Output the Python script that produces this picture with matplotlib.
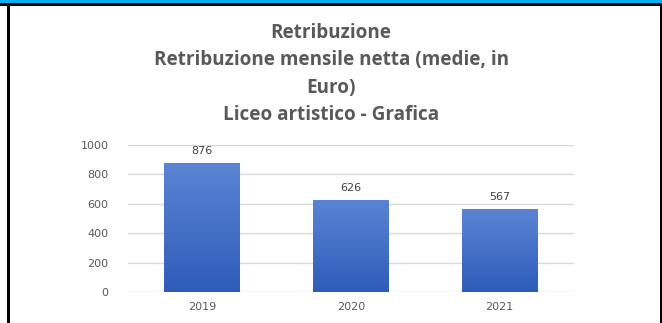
import numpy as np
import matplotlib.pyplot as plt
from matplotlib.patches import Rectangle
from matplotlib.colors import LinearSegmentedColormap

anni = ["2019", "2020", "2021"]
retribuzione = [876, 626, 567]
titolo = "Retribuzione\nRetribuzione mensile netta (medie, in\nEuro)\nLiceo artistico - Grafica"

grigio = "#595959"

fig = plt.figure(figsize=(6.62, 3.23), dpi=100)
ax = fig.add_axes([0.1934, 0.096, 0.6737, 0.455])

x = np.arange(len(anni))
bars = ax.bar(x, retribuzione, width=0.51, color="none", zorder=3)

# gradiente delle barre (chiaro in alto, scuro in basso)
cmap = LinearSegmentedColormap.from_list("blu", ["#2e5cb8", "#5b84d4"])
grad = np.linspace(0, 1, 256).reshape(-1, 1)
for b in bars:
    bx, by = b.get_x(), b.get_y()
    w, h = b.get_width(), b.get_height()
    im = ax.imshow(grad, cmap=cmap, origin="lower", aspect="auto",
                   extent=[bx, bx + w, by, by + h], zorder=3)
    im.set_clip_path(b)

for xi, v in zip(x, retribuzione):
    ax.annotate(str(v), (xi, v), xytext=(0, 5), textcoords="offset points",
                ha="center", va="bottom", fontsize=8, color="#404040")

ax.set_xlim(-0.5, len(anni) - 0.5)
ax.set_ylim(0, 1000)
ax.set_yticks(range(0, 1001, 200))
ax.set_xticks(x)
ax.set_xticklabels(anni)
ax.tick_params(length=0, labelsize=8, colors=grigio, pad=7)
ax.tick_params(axis="y", pad=14)
ax.grid(axis="y", color="#d9d9d9", lw=1, zorder=0)
for s in ax.spines.values():
    s.set_visible(False)

fig.text(0.5, 0.93, titolo, ha="center", va="top", fontsize=13.6,
         fontweight="bold", color=grigio, linespacing=1.5, family="Open Sans")

# cornice
fig.add_artist(Rectangle((0, 1 - 3 / 323), 1, 3 / 323, transform=fig.transFigure,
                         color="#00b0f0", lw=0))
fig.add_artist(Rectangle((0, 1 - 5.5 / 323), 1, 2.5 / 323, transform=fig.transFigure,
                         color="black", lw=0))
fig.add_artist(Rectangle((7 / 662, 0), 3 / 662, 1 - 3 / 323, transform=fig.transFigure,
                         color="black", lw=0))
fig.add_artist(Rectangle((660 / 662, 0), 2 / 662, 1 - 3 / 323, transform=fig.transFigure,
                         color="black", lw=0))

fig.savefig("out.png", dpi=100)
